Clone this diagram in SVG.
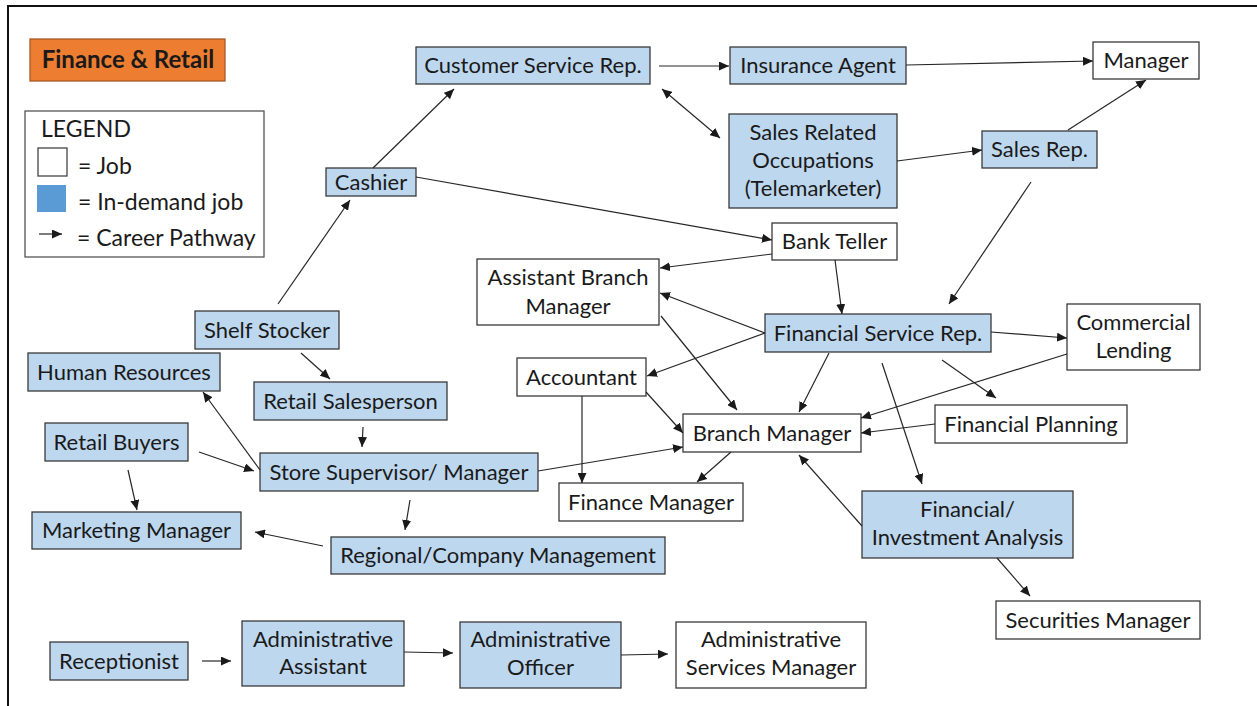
<svg xmlns="http://www.w3.org/2000/svg" width="1257" height="706" viewBox="0 0 1257 706">
<style>
.b{fill:#BDD7EE;stroke:#3A3A3A;stroke-width:1.3}
.w{fill:#FFFFFF;stroke:#3A3A3A;stroke-width:1.3}
text{font-family:Lato,"Liberation Sans",sans-serif;font-size:22px;fill:#1A1A1A;text-anchor:middle}
.l{text-anchor:start;font-size:23px}
.c line{stroke:#262626;stroke-width:1.2;marker-end:url(#ah)}
</style>
<defs>
<marker id="ah" markerUnits="userSpaceOnUse" markerWidth="11" markerHeight="9" refX="10" refY="4.5" orient="auto-start-reverse" viewBox="0 0 11 9">
<path d="M0,0 L10,4.5 L0,9 Z" fill="#1A1A1A"/>
</marker>
</defs>
<rect width="1257" height="706" fill="#FFFFFF"/>
<path d="M8,706 V6 H1257" fill="none" stroke="#111" stroke-width="2"/>

<g id="title">
<rect x="30" y="39" width="195" height="42" fill="#ED7D31" stroke="#A65A22" stroke-width="1.3"/>
<text x="128" y="68" style="font-weight:bold;font-size:24px">Finance &amp; Retail</text>
</g>

<g id="legend">
<rect x="25" y="111" width="239" height="146" fill="#FFFFFF" stroke="#555" stroke-width="1.3"/>
<text class="l" x="41" y="137">LEGEND</text>
<rect x="38" y="148" width="29" height="28" fill="#FFFFFF" stroke="#444" stroke-width="1.3"/>
<text class="l" x="78" y="174">= Job</text>
<rect x="37" y="185" width="29" height="27" fill="#5B9BD5"/>
<text class="l" x="78" y="210">= In-demand job</text>
<line x1="39" y1="234" x2="62" y2="234" stroke="#262626" stroke-width="1.2" marker-end="url(#ah)"/>
<text class="l" x="77" y="246">= Career Pathway</text>
</g>

<g id="customer-service-rep"><rect class="b" x="416" y="47" width="234" height="37"/><text x="533" y="73">Customer Service Rep.</text></g>
<g id="insurance-agent"><rect class="b" x="730" y="47" width="176" height="37"/><text x="818" y="73">Insurance Agent</text></g>
<g id="manager"><rect class="w" x="1093" y="42" width="106" height="37"/><text x="1146" y="68">Manager</text></g>
<g id="sales-related"><rect class="b" x="729" y="114" width="168" height="94"/><text x="813" y="140">Sales Related</text><text x="813" y="168">Occupations</text><text x="813" y="196">(Telemarketer)</text></g>
<g id="sales-rep"><rect class="b" x="982" y="131" width="115" height="37"/><text x="1039.5" y="157">Sales Rep.</text></g>
<g id="cashier"><rect class="b" x="326" y="168" width="90" height="28"/><text x="371" y="189.5">Cashier</text></g>
<g id="bank-teller"><rect class="w" x="772" y="223" width="125" height="37"/><text x="834.5" y="249">Bank Teller</text></g>
<g id="assistant-branch-manager"><rect class="w" x="477" y="259" width="182" height="66"/><text x="568" y="285">Assistant Branch</text><text x="568" y="314">Manager</text></g>
<g id="financial-service-rep"><rect class="b" x="765" y="314" width="226" height="38"/><text x="878" y="340.5">Financial Service Rep.</text></g>
<g id="commercial-lending"><rect class="w" x="1067" y="304" width="133" height="66"/><text x="1133.5" y="330">Commercial</text><text x="1133.5" y="358">Lending</text></g>
<g id="accountant"><rect class="w" x="517" y="358" width="129" height="38"/><text x="581.5" y="384.5">Accountant</text></g>
<g id="branch-manager"><rect class="w" x="683" y="414" width="178" height="38"/><text x="772" y="440.5">Branch Manager</text></g>
<g id="financial-planning"><rect class="w" x="935" y="405" width="192" height="38"/><text x="1031" y="431.5">Financial Planning</text></g>
<g id="finance-manager"><rect class="w" x="559" y="483" width="184" height="38"/><text x="651" y="509.5">Finance Manager</text></g>
<g id="financial-investment-analysis"><rect class="b" x="862" y="491" width="211" height="67"/><text x="967.5" y="517">Financial/</text><text x="967.5" y="545">Investment Analysis</text></g>
<g id="securities-manager"><rect class="w" x="996" y="601" width="204" height="38"/><text x="1098" y="627.5">Securities Manager</text></g>
<g id="shelf-stocker"><rect class="b" x="195" y="311" width="144" height="38"/><text x="267" y="337.5">Shelf Stocker</text></g>
<g id="human-resources"><rect class="b" x="28" y="353" width="192" height="38"/><text x="124" y="379.5">Human Resources</text></g>
<g id="retail-salesperson"><rect class="b" x="254" y="382" width="193" height="38"/><text x="350.5" y="408.5">Retail Salesperson</text></g>
<g id="retail-buyers"><rect class="b" x="45" y="423" width="143" height="38"/><text x="116.5" y="449.5">Retail Buyers</text></g>
<g id="store-supervisor"><rect class="b" x="260" y="453" width="278" height="38"/><text x="399" y="479.5">Store Supervisor/ Manager</text></g>
<g id="marketing-manager"><rect class="b" x="32" y="512" width="209" height="37"/><text x="136.5" y="538">Marketing Manager</text></g>
<g id="regional-management"><rect class="b" x="331" y="537" width="334" height="37"/><text x="498" y="563">Regional/Company Management</text></g>
<g id="receptionist"><rect class="b" x="50" y="642" width="138" height="38"/><text x="119" y="668.5">Receptionist</text></g>
<g id="administrative-assistant"><rect class="b" x="242" y="621" width="162" height="65"/><text x="323" y="647">Administrative</text><text x="323" y="674">Assistant</text></g>
<g id="administrative-officer"><rect class="b" x="460" y="622" width="161" height="66"/><text x="540.5" y="647">Administrative</text><text x="540.5" y="675">Officer</text></g>
<g id="administrative-services-manager"><rect class="w" x="676" y="622" width="190" height="66"/><text x="771" y="647">Administrative</text><text x="771" y="675">Services Manager</text></g>

<g id="connectors" class="c">
<line x1="373" y1="168" x2="454" y2="89"/>
<line x1="278" y1="304" x2="350" y2="200"/>
<line x1="416" y1="177" x2="772" y2="240"/>
<line x1="662" y1="89" x2="720" y2="138" style="marker-start:url(#ah)"/>
<line x1="659" y1="66" x2="729" y2="66"/>
<line x1="906" y1="65" x2="1093" y2="61"/>
<line x1="897" y1="161" x2="982" y2="150"/>
<line x1="1068" y1="130" x2="1146" y2="80"/>
<line x1="1031" y1="182" x2="949" y2="304"/>
<line x1="772" y1="254" x2="660" y2="268"/>
<line x1="835" y1="260" x2="842" y2="314"/>
<line x1="765" y1="333" x2="660" y2="293"/>
<line x1="765" y1="333" x2="647" y2="376"/>
<line x1="661" y1="316" x2="737" y2="410"/>
<line x1="829" y1="353" x2="799" y2="412"/>
<line x1="646" y1="392" x2="683" y2="433"/>
<line x1="582" y1="396" x2="582" y2="483"/>
<line x1="538" y1="471" x2="683" y2="447"/>
<line x1="731" y1="452" x2="697" y2="482"/>
<line x1="862" y1="526" x2="799" y2="455"/>
<line x1="991" y1="332" x2="1067" y2="338"/>
<line x1="1067" y1="354" x2="861" y2="418"/>
<line x1="935" y1="424" x2="861" y2="433"/>
<line x1="942" y1="360" x2="996" y2="398"/>
<line x1="882" y1="363" x2="922" y2="484"/>
<line x1="997" y1="558" x2="1030" y2="596"/>
<line x1="301" y1="353" x2="330" y2="379"/>
<line x1="363" y1="427" x2="362" y2="447"/>
<line x1="260" y1="470" x2="203" y2="392"/>
<line x1="199" y1="452" x2="254" y2="471"/>
<line x1="128" y1="470" x2="137" y2="510"/>
<line x1="323" y1="546" x2="255" y2="532"/>
<line x1="410" y1="500" x2="405" y2="530"/>
<line x1="202" y1="661" x2="231" y2="661"/>
<line x1="404" y1="652" x2="453" y2="653"/>
<line x1="621" y1="655" x2="668" y2="654"/>
</g>
</svg>
